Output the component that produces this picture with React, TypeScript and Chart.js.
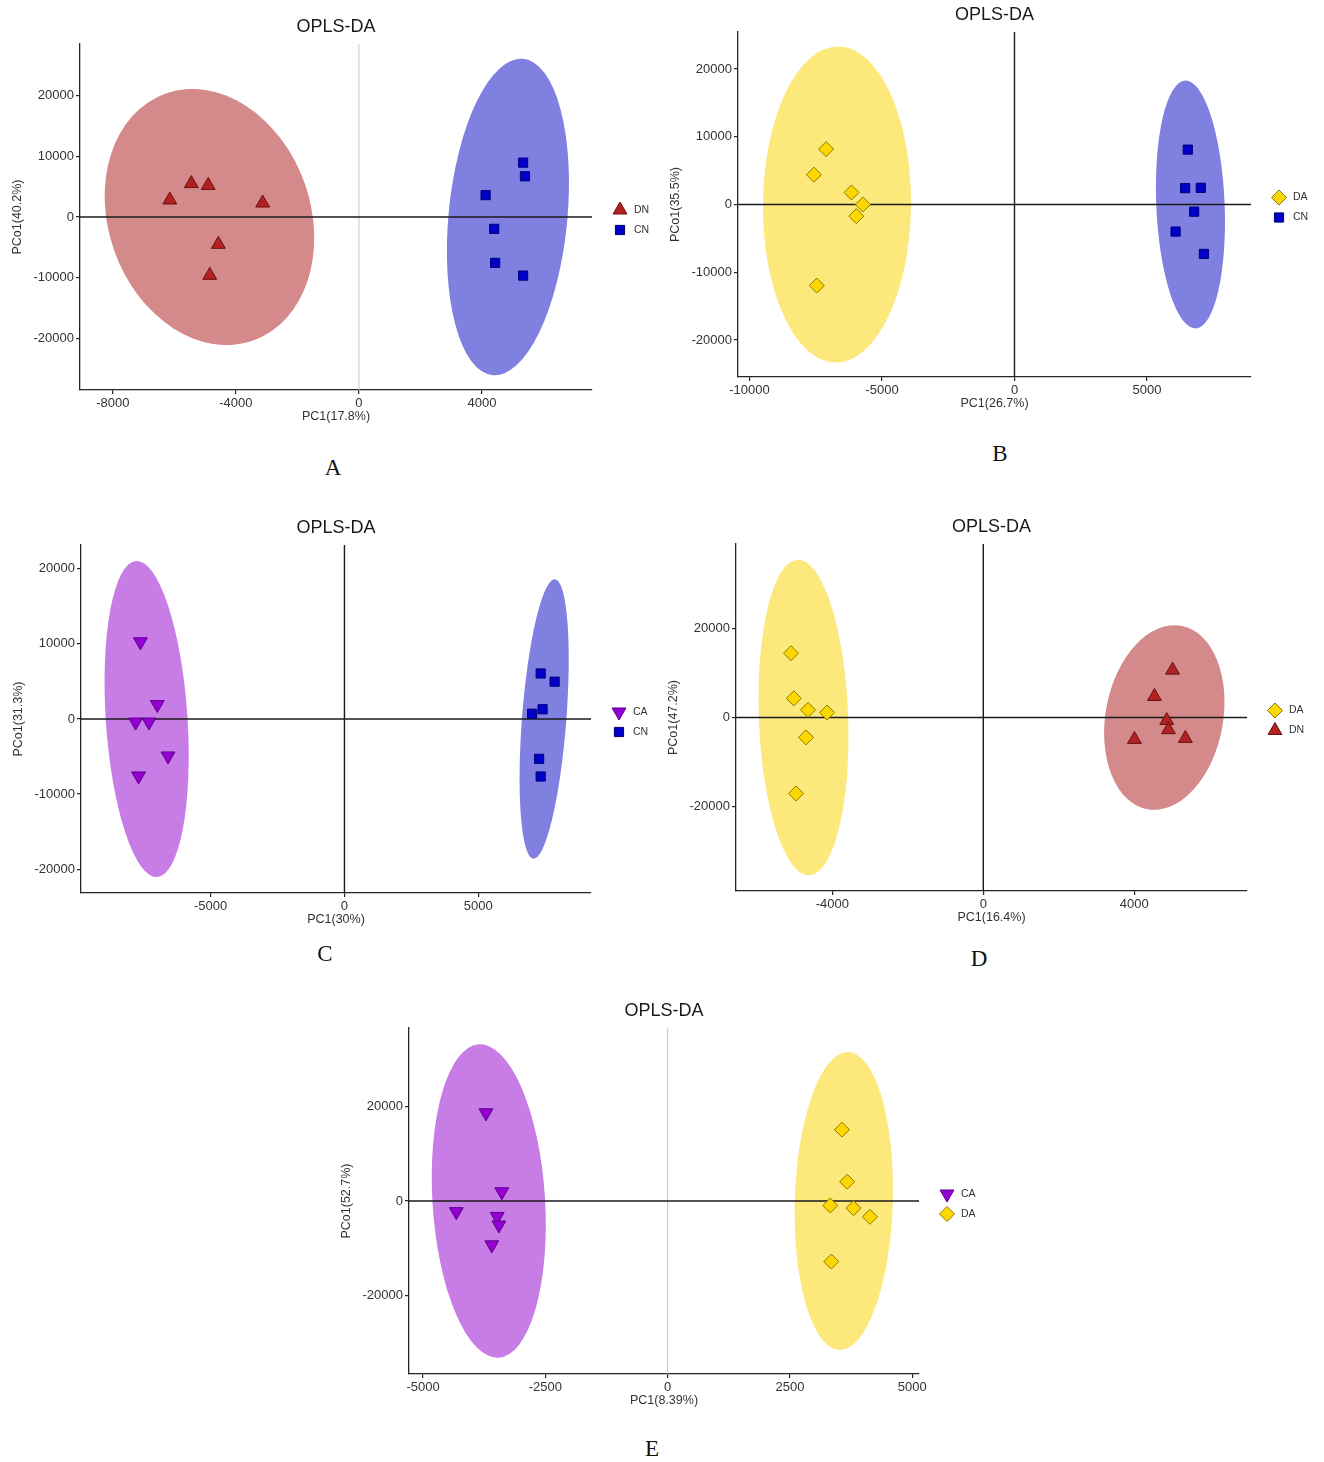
import React, { useEffect, useRef } from 'react';
import { Chart, registerables } from 'chart.js';

Chart.register(...registerables);

const FONT = '"Liberation Sans", Arial, Helvetica, sans-serif';

// ---------------- Panel A : DN vs CN ----------------
const A_X_RANGE = [-9070, 7580];
const A_Y_RANGE = [-28480, 28480];
const A_X_TICKS = [-8000, -4000, 0, 4000];
const A_Y_TICKS = [-20000, -10000, 0, 10000, 20000];
const A_DN_X = [-6150, -5450, -4900, -3130, -4570, -4850];
const A_DN_Y = [2800, 5500, 5200, 2300, -4500, -9600];
const A_CN_X = [5340, 5400, 4120, 4400, 4430, 5340];
const A_CN_Y = [8950, 6700, 3600, -1950, -7550, -9650];
// ellipse: [centre x, centre y, half-width, half-height, tilt in degrees]
const A_DN_ELLIPSE = [-4860, 0, 3285, 21560, -19.5];
const A_CN_ELLIPSE = [4846, 0, 1932, 26170, 5.5];

// ---------------- Panel B : DA vs CN ----------------
const B_X_RANGE = [-10434, 8925];
const B_Y_RANGE = [-25450, 25450];
const B_X_TICKS = [-10000, -5000, 0, 5000];
const B_Y_TICKS = [-20000, -10000, 0, 10000, 20000];
const B_DA_X = [-7110, -7570, -6150, -5720, -5970, -7460];
const B_DA_Y = [8170, 4400, 1770, 0, -1720, -11960];
const B_CN_X = [6540, 6440, 7030, 6780, 6080, 7150];
const B_CN_Y = [8100, 2410, 2460, -1060, -3990, -7290];
const B_DA_ELLIPSE = [-6698, 0, 2792, 23320, 0.5];
const B_CN_ELLIPSE = [6640, 0, 1290, 18300, -2.4];

// ---------------- Panel C : CA vs CN ----------------
const C_X_RANGE = [-9840, 9209];
const C_Y_RANGE = [-23170, 23170];
const C_X_TICKS = [-5000, 0, 5000];
const C_Y_TICKS = [-20000, -10000, 0, 10000, 20000];
const C_CA_X = [-7620, -6990, -7800, -7300, -6590, -7690];
const C_CA_Y = [10280, 1920, -400, -400, -4920, -7590];
const C_CN_X = [7330, 7850, 7400, 7010, 7270, 7330];
const C_CN_Y = [6060, 4970, 1300, 700, -5300, -7660];
const C_CA_ELLIPSE = [-7388, 0, 1526, 21080, -3.8];
const C_CN_ELLIPSE = [7459, 0, 828, 18655, 4.4];

// ---------------- Panel D : DA vs DN ----------------
const D_X_RANGE = [-6552, 6987];
const D_Y_RANGE = [-38830, 38830];
const D_X_TICKS = [-4000, 0, 4000];
const D_Y_TICKS = [-20000, 0, 20000];
const D_DA_X = [-5094, -5020, -4644, -4139, -4698, -4960];
const D_DA_Y = [14390, 4290, 1710, 1120, -4450, -17010];
const D_DN_X = [5015, 4535, 4860, 4905, 4005, 5355];
const D_DN_Y = [10600, 4700, -680, -2730, -4900, -4680];
const D_DA_ELLIPSE = [-4764, 0, 1183, 35340, -2.1];
const D_DN_ELLIPSE = [4796, 0, 1557, 20874, 10.4];

// ---------------- Panel E : CA vs DA ----------------
const E_X_RANGE = [-5288, 5139];
const E_Y_RANGE = [-36490, 36490];
const E_X_TICKS = [-5000, -2500, 0, 2500, 5000];
const E_Y_TICKS = [-20000, 0, 20000];
const E_CA_X = [-3715, -4320, -3390, -3485, -3450, -3595];
const E_CA_Y = [18600, -2250, 1950, -3250, -5050, -9250];
const E_DA_X = [3565, 3670, 3325, 3800, 4135, 3345];
const E_DA_Y = [15050, 4070, -950, -1510, -3340, -12780];
const E_CA_ELLIPSE = [-3657, 0, 1151, 33116, -3.6];
const E_DA_ELLIPSE = [3602, 0, 1002, 31430, 1.7];

// ---------------- styles ----------------
const STY = {
  DN: { style: 'triangle', fill: '#b22222', stroke: '#6a1010', r: 8, ellColor: '#d4898b' },
  CN: { style: 'rect', fill: '#0000c8', stroke: '#00007a', r: 6.5, ellColor: '#8080e0' },
  DA: { style: 'rectRot', fill: '#ffd700', stroke: '#8b7a00', r: 7.5, ellColor: '#fde87c' },
  CA: { style: 'triangleDown', fill: '#9400d3', stroke: '#5a0088', r: 8, ellColor: '#c87de6' },
};

function grp(name, xs, ys, shape) {
  return { name, xs, ys, shape, ...STY[name] };
}

const PANELS = [
  {
    key: 'A', canvas: [0, 0, 660, 440], plot: [80, 44, 592, 390], letter: [333, 467],
    xRange: A_X_RANGE, yRange: A_Y_RANGE, xTicks: A_X_TICKS, yTicks: A_Y_TICKS,
    xTitle: 'PC1(17.8%)', yTitle: 'PCo1(40.2%)', vZero: '#c8c8c8', vZeroW: 1,
    groups: [grp('DN', A_DN_X, A_DN_Y, A_DN_ELLIPSE), grp('CN', A_CN_X, A_CN_Y, A_CN_ELLIPSE)],
  },
  {
    key: 'B', canvas: [660, 0, 664, 430], plot: [738, 32, 1251, 377], letter: [1000, 453],
    xRange: B_X_RANGE, yRange: B_Y_RANGE, xTicks: B_X_TICKS, yTicks: B_Y_TICKS,
    xTitle: 'PC1(26.7%)', yTitle: 'PCo1(35.5%)', vZero: '#1a1a1a', vZeroW: 1.4,
    groups: [grp('DA', B_DA_X, B_DA_Y, B_DA_ELLIPSE), grp('CN', B_CN_X, B_CN_Y, B_CN_ELLIPSE)],
  },
  {
    key: 'C', canvas: [0, 505, 660, 440], plot: [81, 545, 591, 893], letter: [325, 953],
    xRange: C_X_RANGE, yRange: C_Y_RANGE, xTicks: C_X_TICKS, yTicks: C_Y_TICKS,
    xTitle: 'PC1(30%)', yTitle: 'PCo1(31.3%)', vZero: '#1a1a1a', vZeroW: 1.4,
    groups: [grp('CA', C_CA_X, C_CA_Y, C_CA_ELLIPSE), grp('CN', C_CN_X, C_CN_Y, C_CN_ELLIPSE)],
  },
  {
    key: 'D', canvas: [660, 505, 664, 440], plot: [736, 544, 1247, 891], letter: [979, 958],
    xRange: D_X_RANGE, yRange: D_Y_RANGE, xTicks: D_X_TICKS, yTicks: D_Y_TICKS,
    xTitle: 'PC1(16.4%)', yTitle: 'PCo1(47.2%)', vZero: '#1a1a1a', vZeroW: 1.4,
    groups: [grp('DA', D_DA_X, D_DA_Y, D_DA_ELLIPSE), grp('DN', D_DN_X, D_DN_Y, D_DN_ELLIPSE)],
  },
  {
    key: 'E', canvas: [330, 990, 670, 440], plot: [409, 1028, 919, 1374], letter: [652, 1448],
    xRange: E_X_RANGE, yRange: E_Y_RANGE, xTicks: E_X_TICKS, yTicks: E_Y_TICKS,
    xTitle: 'PC1(8.39%)', yTitle: 'PCo1(52.7%)', vZero: '#c8c8c8', vZeroW: 1,
    groups: [grp('CA', E_CA_X, E_CA_Y, E_CA_ELLIPSE), grp('DA', E_DA_X, E_DA_Y, E_DA_ELLIPSE)],
  },
];

function drawMarker(ctx, style, x, y, r, fill, stroke) {
  ctx.beginPath();
  if (style === 'triangle' || style === 'triangleDown') {
    const s = style === 'triangle' ? 1 : -1;
    ctx.moveTo(x, y - s * r);
    ctx.lineTo(x + r * 0.866, y + (s * r) / 2);
    ctx.lineTo(x - r * 0.866, y + (s * r) / 2);
  } else if (style === 'rect') {
    const h = r * Math.SQRT1_2;
    ctx.rect(x - h, y - h, 2 * h, 2 * h);
  } else {
    ctx.moveTo(x, y - r);
    ctx.lineTo(x + r, y);
    ctx.lineTo(x, y + r);
    ctx.lineTo(x - r, y);
  }
  ctx.closePath();
  ctx.fillStyle = fill;
  ctx.fill();
  ctx.lineWidth = 1;
  ctx.strokeStyle = stroke;
  ctx.stroke();
}

function Panel({ p }) {
  const ref = useRef(null);
  const [cx0, cy0, cw, ch] = p.canvas;
  useEffect(() => {
    const [L, T, R, B] = p.plot;
    const yW = L - cx0;
    const xH = cy0 + ch - B;

    const deco = {
      id: 'deco' + p.key,
      beforeDatasetsDraw(chart) {
        const { ctx, chartArea: ca } = chart;
        const xs = chart.scales.x;
        const ys = chart.scales.y;
        ctx.save();
        for (const g of p.groups) {
          const [ex, ey, erx, ery, tilt] = g.shape;
          const px = xs.getPixelForValue(ex);
          const py = ys.getPixelForValue(ey);
          const rx = Math.abs(xs.getPixelForValue(ex + erx) - px);
          const ry = Math.abs(ys.getPixelForValue(ey + ery) - py);
          ctx.beginPath();
          ctx.ellipse(px, py, rx, ry, (tilt * Math.PI) / 180, 0, Math.PI * 2);
          ctx.fillStyle = g.ellColor;
          ctx.fill();
        }
        const zx = xs.getPixelForValue(0);
        const zy = ys.getPixelForValue(0);
        ctx.strokeStyle = p.vZero;
        ctx.lineWidth = p.vZeroW;
        ctx.beginPath();
        ctx.moveTo(zx, ca.top);
        ctx.lineTo(zx, ca.bottom);
        ctx.stroke();
        ctx.strokeStyle = '#1a1a1a';
        ctx.lineWidth = 1.4;
        ctx.beginPath();
        ctx.moveTo(ca.left, zy);
        ctx.lineTo(ca.right, zy);
        ctx.stroke();
        ctx.restore();
      },
      afterDraw(chart) {
        const { ctx, chartArea: ca } = chart;
        const zy = chart.scales.y.getPixelForValue(0);
        const mx = (ca.left + ca.right) / 2;
        ctx.save();
        ctx.textAlign = 'center';
        ctx.textBaseline = 'middle';
        ctx.fillStyle = '#1a1a1a';
        ctx.font = `18px ${FONT}`;
        ctx.fillText('OPLS-DA', mx, ca.top - 17);
        ctx.fillStyle = '#333';
        ctx.font = `12.5px ${FONT}`;
        ctx.fillText(p.xTitle, mx, ca.bottom + 27);
        ctx.save();
        ctx.translate(ca.left - 62, zy);
        ctx.rotate(-Math.PI / 2);
        ctx.fillText(p.yTitle, 0, 0);
        ctx.restore();
        p.groups.forEach((g, i) => {
          const ly = zy - 7 + 20 * i;
          drawMarker(ctx, g.style, ca.right + 28, ly, g.r, g.fill, g.stroke);
          ctx.fillStyle = '#333';
          ctx.textAlign = 'left';
          ctx.font = `10.5px ${FONT}`;
          ctx.fillText(g.name, ca.right + 42, ly);
        });
        ctx.restore();
      },
    };

    const axisCommon = {
      type: 'linear',
      border: { display: true, color: '#262626', width: 1.3 },
      grid: { display: true, drawOnChartArea: false, drawTicks: true, tickLength: 4, color: '#262626', lineWidth: 1.2 },
    };

    const chart = new Chart(ref.current, {
      type: 'scatter',
      data: {
        datasets: p.groups.map((g) => ({
          label: g.name,
          data: g.xs.map((x, i) => ({ x, y: g.ys[i] })),
          pointStyle: g.style === 'triangleDown' ? 'triangle' : g.style,
          pointRotation: g.style === 'triangleDown' ? 180 : 0,
          pointRadius: g.r,
          pointHoverRadius: g.r,
          backgroundColor: g.fill,
          borderColor: g.stroke,
          borderWidth: 1,
        })),
      },
      options: {
        responsive: false,
        animation: false,
        devicePixelRatio: 1,
        events: [],
        layout: { padding: { left: 0, top: T - cy0, right: cx0 + cw - R, bottom: 0 } },
        plugins: { legend: { display: false }, title: { display: false }, tooltip: { enabled: false } },
        scales: {
          x: {
            ...axisCommon,
            position: 'bottom',
            min: p.xRange[0],
            max: p.xRange[1],
            afterBuildTicks: (s) => { s.ticks = p.xTicks.map((v) => ({ value: v })); },
            afterFit: (s) => { s.height = xH; },
            ticks: { color: '#333', font: { family: FONT, size: 13 }, padding: 2, autoSkip: false, maxRotation: 0, callback: (v) => String(v) },
          },
          y: {
            ...axisCommon,
            position: 'left',
            min: p.yRange[0],
            max: p.yRange[1],
            afterBuildTicks: (s) => { s.ticks = p.yTicks.map((v) => ({ value: v })); },
            afterFit: (s) => { s.width = yW; },
            ticks: { color: '#333', font: { family: FONT, size: 13 }, padding: 2, autoSkip: false, callback: (v) => String(v) },
          },
        },
      },
      plugins: [deco],
    });
    return () => chart.destroy();
  }, [p]);
  return (
    <canvas
      ref={ref}
      width={cw}
      height={ch}
      style={{ position: 'absolute', left: cx0, top: cy0, width: cw, height: ch }}
    />
  );
}

export default function App() {
  return (
    <div style={{ position: 'absolute', left: 0, top: 0, width: 1324, height: 1462, background: '#fff', overflow: 'hidden' }}>
      {PANELS.map((p) => (
        <Panel key={p.key} p={p} />
      ))}
      {PANELS.map((p) => (
        <div
          key={'lab' + p.key}
          style={{
            position: 'absolute',
            left: p.letter[0],
            top: p.letter[1],
            transform: 'translate(-50%, -50%)',
            fontFamily: '"Liberation Serif", "Times New Roman", serif',
            fontSize: 23,
            lineHeight: 1,
            color: '#111',
          }}
        >
          {p.key}
        </div>
      ))}
    </div>
  );
}
